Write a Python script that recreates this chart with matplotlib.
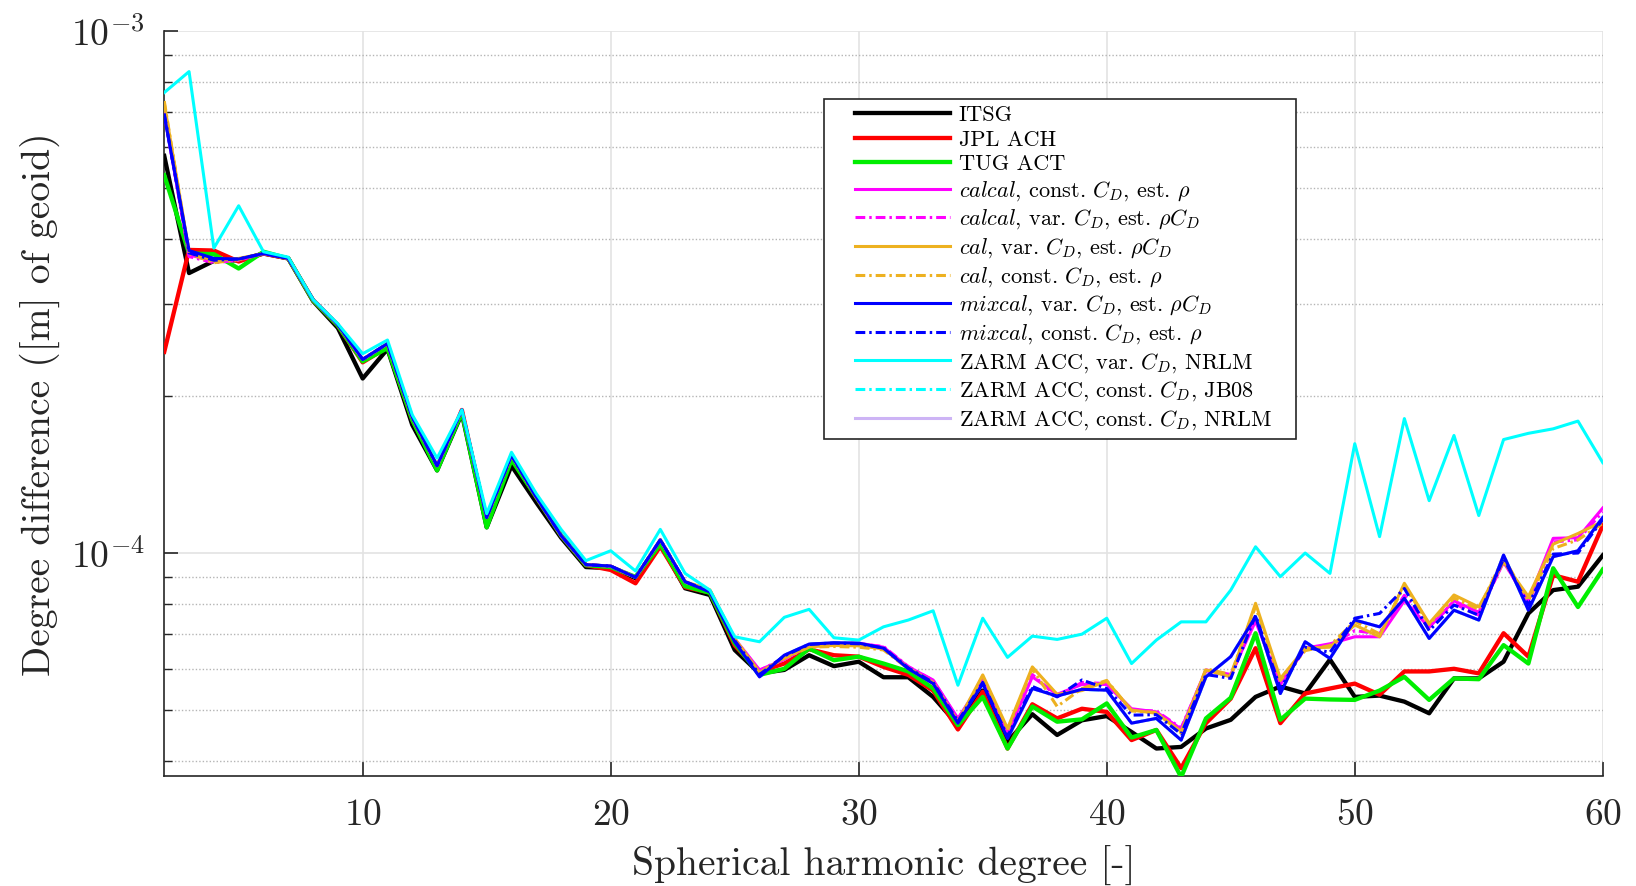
import numpy as np
import matplotlib
matplotlib.use("Agg")
import matplotlib.pyplot as plt
from matplotlib.ticker import LogLocator, NullFormatter, FixedLocator
from matplotlib.lines import Line2D
from matplotlib.legend_handler import HandlerLine2D

plt.rcParams['font.family'] = ['cmr10']
plt.rcParams['mathtext.fontset'] = 'cm'
plt.rcParams['axes.formatter.use_mathtext'] = True

# spherical harmonic degrees 2..60
degree = np.arange(2, 61)

# degree differences, in units of 1e-5 m of geoid
itsg = [57.7, 34.4, 36.3, 36.4, 37.5, 36.7, 30.4, 27.0, 21.6, 24.6,
        17.6, 14.4, 18.5, 11.2, 14.7, 12.5, 10.7, 9.40, 9.35, 8.95,
        10.4, 8.56, 8.31, 6.52, 5.88, 5.97, 6.37, 6.07, 6.19, 5.78,
        5.78, 5.30, 4.68, 5.45, 4.35, 4.91, 4.48, 4.78, 4.87, 4.54,
        4.22, 4.25, 4.61, 4.79, 5.30, 5.55, 5.38, 6.25, 5.30, 5.33,
        5.19, 4.93, 5.75, 5.75, 6.19, 7.66, 8.49, 8.62, 9.9]
jpl_ach = [24.3, 38.1, 38.0, 36.2, 37.5, 36.7, 30.5, 27.3, 23.2, 24.8,
           18.0, 14.5, 18.8, 11.5, 15.2, 12.8, 10.8, 9.48, 9.28, 8.75,
           10.3, 8.60, 8.40, 6.65, 5.93, 6.14, 6.54, 6.37, 6.33, 6.05,
           5.84, 5.45, 4.59, 5.42, 4.22, 5.13, 4.82, 5.03, 4.96, 4.38,
           4.58, 3.87, 4.72, 5.26, 6.57, 4.72, 5.38, 5.50, 5.62, 5.35,
           5.93, 5.93, 6.00, 5.88, 7.02, 6.33, 9.07, 8.81, 11.3]
tug_act = [53.0, 37.5, 37.4, 35.1, 37.8, 36.7, 30.5, 27.3, 23.3, 24.7,
           18.0, 14.4, 18.6, 11.2, 15.1, 12.8, 10.8, 9.48, 9.40, 9.00,
           10.4, 8.64, 8.39, 6.72, 5.84, 6.00, 6.56, 6.23, 6.33, 6.14,
           5.93, 5.50, 4.68, 5.30, 4.22, 5.08, 4.75, 4.80, 5.15, 4.43,
           4.58, 3.72, 4.82, 5.28, 7.02, 4.79, 5.26, 5.24, 5.23, 5.45,
           5.79, 5.23, 5.75, 5.73, 6.66, 6.14, 9.35, 7.88, 9.3]
calcal_const = [69.5, 37.3, 36.2, 36.5, 37.5, 36.7, 30.6, 27.4, 23.5, 25.2,
                18.2, 14.7, 18.8, 11.7, 15.4, 12.8, 10.8, 9.50, 9.44, 8.98,
                10.6, 8.81, 8.45, 6.85, 5.97, 6.25, 6.65, 6.70, 6.72, 6.60,
                6.05, 5.71, 4.82, 5.70, 4.50, 5.79, 5.36, 5.60, 5.60, 5.03,
                4.96, 4.60, 5.97, 5.85, 7.40, 5.60, 6.57, 6.70, 6.91, 6.91,
                8.10, 7.20, 8.10, 7.70, 9.60, 8.10, 10.67, 10.7, 12.2]
calcal_var = [70.0, 37.0, 36.0, 36.4, 37.5, 36.7, 30.6, 27.4, 23.5, 25.2,
              18.2, 14.7, 18.8, 11.7, 15.4, 12.8, 10.8, 9.50, 9.44, 8.98,
              10.6, 8.81, 8.45, 6.83, 5.95, 6.30, 6.66, 6.68, 6.70, 6.62,
              6.06, 5.70, 4.80, 5.72, 4.52, 5.85, 5.30, 5.65, 5.62, 5.00,
              4.98, 4.62, 5.95, 5.80, 7.50, 5.65, 6.55, 6.65, 7.10, 7.00,
              8.30, 7.25, 8.00, 7.60, 9.65, 8.00, 10.5, 10.6, 12.0]
cal_var = [72.8, 37.8, 36.3, 36.7, 37.5, 36.7, 30.6, 27.4, 23.5, 25.2,
           18.2, 14.7, 18.8, 11.7, 15.4, 12.8, 10.8, 9.50, 9.44, 8.98,
           10.6, 8.81, 8.50, 6.85, 5.90, 6.30, 6.61, 6.65, 6.64, 6.55,
           6.02, 5.65, 4.75, 5.84, 4.61, 6.05, 5.36, 5.45, 5.68, 5.00,
           4.93, 4.55, 5.97, 5.79, 8.01, 5.75, 6.57, 6.60, 7.28, 6.91,
           8.75, 7.33, 8.31, 7.88, 9.62, 8.25, 10.4, 10.9, 11.5]
cal_const = [73.5, 37.5, 36.0, 36.5, 37.5, 36.7, 30.6, 27.4, 23.5, 25.2,
             18.2, 14.7, 18.8, 11.7, 15.4, 12.8, 10.8, 9.50, 9.44, 8.98,
             10.6, 8.81, 8.50, 6.85, 5.90, 6.28, 6.60, 6.62, 6.60, 6.52,
             6.00, 5.62, 4.73, 5.80, 4.58, 6.00, 5.08, 5.50, 5.70, 4.98,
             4.95, 4.52, 6.00, 5.85, 7.90, 5.70, 6.50, 6.65, 7.40, 7.00,
             8.65, 7.30, 8.20, 7.80, 9.80, 8.10, 10.2, 10.6, 11.4]
mixcal_var = [69.1, 38.0, 36.7, 36.6, 37.5, 36.7, 30.6, 27.4, 23.5, 25.2,
              18.2, 14.7, 18.8, 11.7, 15.4, 12.8, 10.8, 9.50, 9.44, 8.98,
              10.6, 8.81, 8.42, 6.76, 5.79, 6.37, 6.69, 6.73, 6.72, 6.57,
              6.00, 5.62, 4.72, 5.62, 4.41, 5.50, 5.32, 5.48, 5.46, 4.72,
              4.82, 4.38, 5.79, 6.33, 7.55, 5.38, 6.76, 6.28, 7.44, 7.22,
              8.19, 6.86, 7.77, 7.44, 9.91, 7.77, 9.84, 10.1, 11.7]
mixcal_const = [69.5, 37.6, 36.4, 36.6, 37.5, 36.7, 30.6, 27.4, 23.5, 25.2,
                18.2, 14.7, 18.8, 11.7, 15.4, 12.8, 10.8, 9.50, 9.44, 8.98,
                10.6, 8.81, 8.45, 6.80, 5.85, 6.35, 6.68, 6.72, 6.70, 6.58,
                6.02, 5.65, 4.76, 5.65, 4.45, 5.55, 5.30, 5.71, 5.50, 4.89,
                4.90, 4.50, 5.85, 5.75, 7.60, 5.50, 6.60, 6.45, 7.50, 7.66,
                8.55, 7.10, 7.95, 7.60, 9.75, 7.95, 9.95, 10.0, 11.6]
zarm_var_nrlm = [76.3, 83.7, 38.4, 46.3, 37.8, 36.9, 30.6, 27.5, 24.1, 25.6,
                 18.4, 15.2, 18.8, 11.9, 15.6, 13.0, 11.1, 9.67, 10.1, 9.24,
                 11.1, 9.14, 8.49, 6.91, 6.76, 7.53, 7.80, 6.88, 6.81, 7.22,
                 7.44, 7.75, 5.58, 7.50, 6.31, 6.93, 6.83, 6.99, 7.50, 6.14,
                 6.81, 7.38, 7.38, 8.49, 10.28, 9.01, 10.0, 9.14, 16.2, 10.75,
                 18.1, 12.6, 16.8, 11.8, 16.5, 16.96, 17.3, 17.9, 14.9]
# these two lie underneath the other curves in the figure
zarm_const_jb08 = [69.0, 38.0, 36.7, 36.6, 37.5, 36.7, 30.6, 27.4, 23.5, 25.2,
                   18.2, 14.7, 18.8, 11.7, 15.4, 12.8, 10.8, 9.50, 9.44, 8.98,
                   10.6, 8.81, 8.42, 6.76, 5.79, 6.37, 6.69, 6.73, 6.72, 6.57,
                   6.00, 5.62, 4.72, 5.62, 4.41, 5.50, 5.32, 5.48, 5.46, 4.72,
                   4.82, 4.38, 5.79, 6.33, 7.55, 5.38, 6.76, 6.28, 7.44, 7.22,
                   8.19, 6.86, 7.77, 7.44, 9.91, 7.77, 9.84, 10.1, 11.7]
zarm_const_nrlm = [69.0, 38.0, 36.7, 36.6, 37.5, 36.7, 30.6, 27.4, 23.5, 25.2,
                   18.2, 14.7, 18.8, 11.7, 15.4, 12.8, 10.8, 9.50, 9.44, 8.98,
                   10.6, 8.81, 8.42, 6.76, 5.79, 6.37, 6.69, 6.73, 6.72, 6.57,
                   6.00, 5.62, 4.72, 5.62, 4.41, 5.50, 5.32, 5.48, 5.46, 4.72,
                   4.82, 4.38, 5.79, 6.33, 7.55, 5.38, 6.76, 6.28, 7.44, 7.22,
                   8.19, 6.86, 7.77, 7.44, 9.91, 7.77, 9.84, 10.1, 11.7]

labels = ['ITSG', 'JPL ACH', 'TUG ACT',
          r'$calcal$, const. $C_D$, est. $\rho$',
          r'$calcal$, var. $C_D$, est. $\rho C_D$',
          r'$cal$, var. $C_D$, est. $\rho C_D$',
          r'$cal$, const. $C_D$, est. $\rho$',
          r'$mixcal$, var. $C_D$, est. $\rho C_D$',
          r'$mixcal$, const. $C_D$, est. $\rho$',
          'ZARM ACC, var. $C_D$, NRLM',
          'ZARM ACC, const. $C_D$, JB08',
          'ZARM ACC, const. $C_D$, NRLM']
series = [itsg, jpl_ach, tug_act, calcal_const, calcal_var, cal_var, cal_const,
          mixcal_var, mixcal_const, zarm_var_nrlm, zarm_const_jb08, zarm_const_nrlm]
colors = ['black', '#ff0000', '#00ee00', '#ff00ff', '#ff00ff', '#edb120', '#edb120',
          '#0000ff', '#0000ff', '#00ffff', '#00ffff', '#cdb4f5']
dashdot = (3.2, 1.3, 0.8, 1.3)
styles = ['-', '-', '-', '-', dashdot, '-', dashdot, '-', dashdot, '-', dashdot, '-']
widths = [3.1, 3.1, 3.1, 2.2, 2.2, 2.2, 2.2, 2.2, 2.2, 2.2, 2.2, 2.2]
zorders = [3, 3, 4, 5, 5, 5, 5, 6, 6, 7, 2, 2]

fig = plt.figure(figsize=(16.36, 8.86), dpi=100)
ax = fig.add_axes([0.1004, 0.1236, 0.8793, 0.8411])

for y, lab, c, ls, lw, z in zip(series, labels, colors, styles, widths, zorders):
    vals = np.array(y) * 1e-5
    if isinstance(ls, tuple):
        ax.plot(degree, vals, color=c, lw=lw, dashes=ls, label=lab, zorder=z)
    else:
        ax.plot(degree, vals, color=c, lw=lw, ls=ls, label=lab, zorder=z)

ax.set_yscale('log')
ax.set_xlim(2, 60)
ax.set_ylim(3.73e-5, 1e-3)
ax.xaxis.set_major_locator(FixedLocator([10, 20, 30, 40, 50, 60]))
ax.yaxis.set_minor_locator(LogLocator(base=10, subs=np.arange(1, 10)))
ax.yaxis.set_minor_formatter(NullFormatter())

ax.grid(True, which='major', axis='x', color='#e3e3e3', lw=1.2, ls='-')
ax.grid(True, which='major', axis='y', color='#e3e3e3', lw=1.2, ls='-')
ax.grid(True, which='minor', axis='y', color='#b5b5b5', lw=1.0, ls=(0, (1, 1.5)))
ax.set_axisbelow(True)

for s in ['top', 'right']:
    ax.spines[s].set_visible(False)
for s in ['left', 'bottom']:
    ax.spines[s].set_color('#262626')
    ax.spines[s].set_linewidth(1.2)

ax.tick_params(axis='both', which='major', direction='in', length=10, width=1.2,
               color='#262626', labelsize=27, labelcolor='#262626')
ax.tick_params(axis='x', which='major', pad=16)
ax.tick_params(axis='y', which='major', pad=14)
ax.tick_params(axis='y', which='minor', direction='in', length=5.5, width=1.0,
               color='#262626')

ax.set_xlabel('Spherical harmonic degree [-]', fontsize=28.5, color='#262626', labelpad=10)
ax.set_ylabel('Degree difference ([m] of geoid)', fontsize=28.5, color='#262626', labelpad=8)

lx0, ly0, lx1, ly1 = 824, 99, 1296, 438
leg = ax.legend(loc='upper left',
                bbox_to_anchor=(lx0 / 1636, 1 - ly1 / 886, (lx1 - lx0) / 1636, (ly1 - ly0) / 886),
                bbox_transform=fig.transFigure, mode='expand',
                fontsize=16, frameon=True, fancybox=False, framealpha=1,
                edgecolor='#262626', handlelength=5.35, handletextpad=0.42,
                labelspacing=0.22, borderpad=0.3, borderaxespad=0,
                handler_map={Line2D: HandlerLine2D(xpad=1.1)})
leg.get_frame().set_linewidth(1.2)

fig.savefig('out.png', dpi=100)
